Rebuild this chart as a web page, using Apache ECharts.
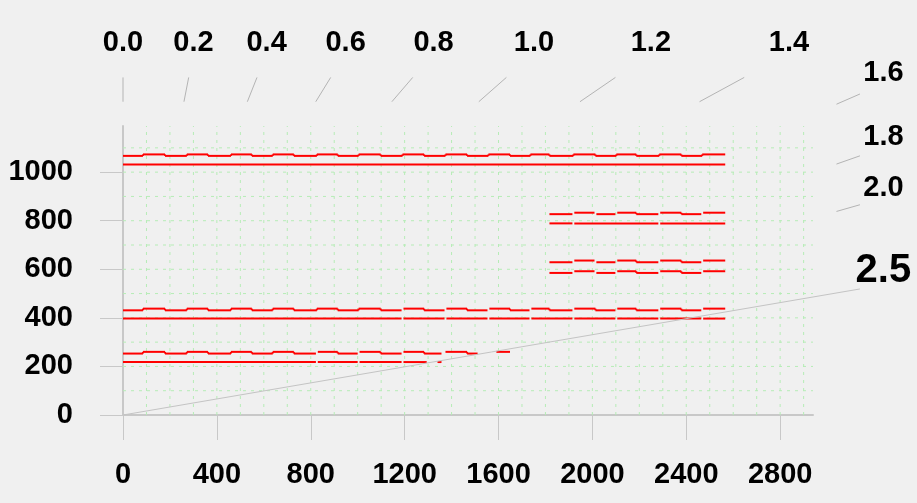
<!DOCTYPE html>
<html>
<head>
<meta charset="utf-8">
<script src="https://cdn.jsdelivr.net/npm/echarts@6/dist/echarts.min.js"></script>
<style>
  html, body { margin: 0; padding: 0; background: #f0f0f0; }
  #chart { width: 917px; height: 503px; }
</style>
</head>
<body>
<div id="chart"></div>
<script>
const FONT = '"Liberation Sans", Arial, sans-serif';

// axes
const xMax = 2940;
const yMax = 1190;
const xTicks = [0, 400, 800, 1200, 1600, 2000, 2400, 2800];
const yTicks = [0, 200, 400, 600, 800, 1000];
const xGrid = [100, 200, 300, 400, 500, 600, 700, 800, 900, 1000, 1100, 1200, 1300, 1400, 1500,
               1600, 1700, 1800, 1900, 2000, 2100, 2200, 2300, 2400, 2500, 2600, 2700, 2800, 2900];
const yGrid = [100, 200, 300, 400, 500, 600, 700, 800, 900, 1000, 1100];

// fan scale along the top / right border
const fanValues = [0.0, 0.2, 0.4, 0.6, 0.8, 1.0, 1.2, 1.4, 1.6, 1.8, 2.0, 2.5];
const fanLong = 2.5;

// x where the pulse rows switch between their low and high level
const stepEdges = [0, 85, 179, 272, 362, 460, 549, 638, 728, 826, 915, 1004, 1098, 1191, 1283,
                   1374, 1466, 1557, 1649, 1736, 1817, 1919, 2013, 2102, 2187, 2285, 2379, 2468, 2566];

// levels: [low, high] for pulse rows, [level] for flat rows
const topPulse = [1067, 1073];
const topFlat = [1031];
const midPulse = [431, 438];
const midFlat = [397];
const lowPulse = [253, 260];
const lowFlat = [218];
const rightPulseA = [827, 833];
const rightFlatA = [789];
const rightPulseB = [629, 636];
const rightPulseC = [585, 592];

// spans drawn on each row
const fullSpan = [[0, 2566]];
const rightSpan = [[1817, 2566]];
const lowPulseSpan = [[0, 1357], [1374, 1511], [1591, 1649]];
const lowFlatSpan = [[0, 1294], [1340, 1357]];

// small breaks in the rows
const midCuts = [1191, 1374, 1557, 1736, 1919, 2102, 2285, 2468];
const lowCuts = [826, 1004, 1191];
const rightPulseCuts = [1919, 2013, 2102, 2285, 2468];
const rightFlatCuts = [1919, 2285];

const rows = [
    [topPulse, fullSpan, []],
    [topFlat, fullSpan, []],
    [midPulse, fullSpan, midCuts],
    [midFlat, fullSpan, midCuts],
    [lowPulse, lowPulseSpan, lowCuts],
    [lowFlat, lowFlatSpan, lowCuts],
    [rightPulseA, rightSpan, rightPulseCuts],
    [rightFlatA, rightSpan, rightFlatCuts],
    [rightPulseB, rightSpan, rightPulseCuts],
    [rightPulseC, rightSpan, rightPulseCuts]
];

const gapHalf = 4;

function cutSpans(spans, cuts, edges) {
    const out = [];
    spans.forEach(([a, b]) => {
        const marks = [...new Set(edges.concat(cuts))].filter(x => x > a && x < b).sort((p, q) => p - q);
        const pts = [a].concat(marks, [b]);
        for (let i = 0; i < pts.length - 1; i++) {
            let s = pts[i], e = pts[i + 1];
            if (cuts.indexOf(s) >= 0) s += gapHalf;
            if (cuts.indexOf(e) >= 0) e -= gapHalf;
            if (e > s) out.push([s, e]);
        }
    });
    return out;
}

function levelAt(x, levels) {
    let i = 0;
    while (i < stepEdges.length - 2 && x >= stepEdges[i + 1]) i++;
    return levels[i % 2];
}

// items: [x0, y0, x1, y1]
const segments = [];
rows.forEach(([levels, spans, cuts]) => {
    const pulse = levels.length === 2;
    cutSpans(spans, cuts, pulse ? stepEdges : []).forEach(([s, e]) => {
        const y = pulse ? levelAt((s + e) / 2, levels) : levels[0];
        segments.push([s, y, e, y]);
    });
    if (pulse) {
        // risers where the level changes without a break
        spans.forEach(([a, b]) => {
            stepEdges.filter(x => x > a && x < b && cuts.indexOf(x) < 0)
                .forEach(x => segments.push([x, levels[0], x, levels[1]]));
        });
    }
});

const gridLines = xGrid.map(v => [0, v]).concat(yGrid.map(v => [1, v]));

const chart = echarts.init(document.getElementById('chart'));
chart.setOption({
    animation: false,
    backgroundColor: '#f0f0f0',
    grid: {left: 123, right: 104, top: 126, bottom: 88},
    xAxis: {
        type: 'value', min: 0, max: xMax,
        axisLine: {show: true, lineStyle: {color: '#c8c8c8', width: 2}},
        axisTick: {show: true, length: 25, customValues: xTicks, lineStyle: {color: '#c8c8c8', width: 1}},
        axisLabel: {
            customValues: xTicks, margin: 45, color: '#000',
            fontSize: 29, fontWeight: 'bold', fontFamily: FONT,
            formatter: v => String(v)
        },
        splitLine: {show: false}
    },
    yAxis: {
        type: 'value', min: 0, max: yMax,
        axisLine: {show: true, lineStyle: {color: '#c8c8c8', width: 2}},
        axisTick: {show: true, length: 23, customValues: yTicks, lineStyle: {color: '#c8c8c8', width: 1}},
        axisLabel: {
            customValues: yTicks, margin: 50, color: '#000',
            fontSize: 29, fontWeight: 'bold', fontFamily: FONT,
            formatter: v => String(v)
        },
        splitLine: {show: false}
    },
    series: [
        {
            // light green dashed grid
            type: 'custom',
            coordinateSystem: 'cartesian2d',
            silent: true,
            z: 1,
            data: gridLines,
            renderItem(params, api) {
                const horiz = api.value(0) === 1;
                const v = api.value(1);
                const p0 = horiz ? api.coord([0, v]) : api.coord([v, 0]);
                const p1 = horiz ? api.coord([xMax, v]) : api.coord([v, yMax]);
                return {
                    type: 'line',
                    shape: {x1: p0[0], y1: p0[1], x2: p1[0], y2: p1[1]},
                    style: {stroke: '#b6ecb6', lineWidth: 1, lineDash: [3, 5]}
                };
            }
        },
        {
            // red segments
            type: 'custom',
            coordinateSystem: 'cartesian2d',
            silent: true,
            z: 3,
            data: segments,
            encode: {x: [0, 2], y: [1, 3]},
            renderItem(params, api) {
                const p0 = api.coord([api.value(0), api.value(1)]);
                const p1 = api.coord([api.value(2), api.value(3)]);
                return {
                    type: 'line',
                    shape: {x1: p0[0], y1: p0[1], x2: p1[0], y2: p1[1]},
                    style: {stroke: '#ff0000', lineWidth: 2}
                };
            }
        },
        {
            // fan ticks and labels
            type: 'custom',
            coordinateSystem: 'cartesian2d',
            silent: true,
            clip: false,
            z: 4,
            data: fanValues.map(v => [v, 0]),
            renderItem(params, api) {
                const k = api.value(0);
                const s = Math.sinh(k);
                const hit = pad => {
                    const X = xMax + pad, Y = yMax + pad;
                    const t = s > 0 ? Math.min(Y, X / s) : Y;
                    return api.coord([t * s, t]);
                };
                const long = k === fanLong;
                const p0 = long ? api.coord([0, 0]) : hit(100);
                const p1 = hit(200);
                const pl = hit(300);
                const size = long ? 40 : 29;
                return {
                    type: 'group',
                    children: [
                        {
                            type: 'line',
                            shape: {x1: p0[0], y1: p0[1], x2: p1[0], y2: p1[1]},
                            style: {stroke: long ? '#c4c4c4' : '#b4b4b4', lineWidth: 1}
                        },
                        {
                            type: 'text',
                            x: pl[0],
                            y: pl[1] - size * 0.36,
                            style: {
                                text: k.toFixed(1), fill: '#000',
                                font: 'bold ' + size + 'px ' + FONT,
                                textAlign: 'center', textVerticalAlign: 'middle',
                                align: 'center', verticalAlign: 'middle'
                            }
                        }
                    ]
                };
            }
        }
    ]
});
</script>
</body>
</html>
